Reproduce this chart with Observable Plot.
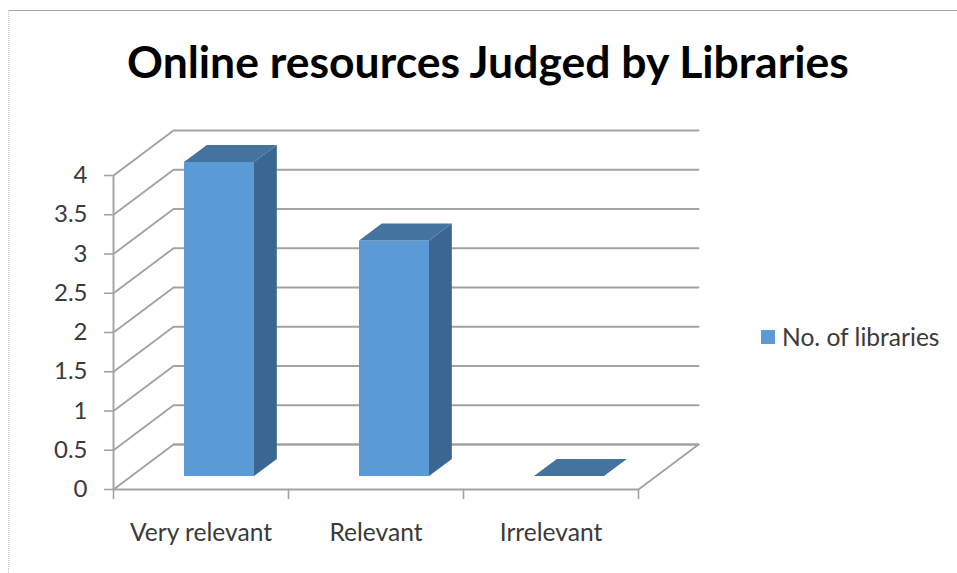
<!DOCTYPE html>
<html>
<head>
<meta charset="utf-8">
<script src="https://cdn.jsdelivr.net/npm/d3@7"></script>
<script src="https://cdn.jsdelivr.net/npm/@observablehq/plot@0.6"></script>
<style>
  html, body { margin: 0; padding: 0; background: #fff; overflow: hidden; }
  #chart { position: relative; width: 957px; height: 573px; font-family: Lato, sans-serif; color: #3a3a3a; }
  #chart svg { position: absolute; left: 0; top: 0; font-family: Lato, sans-serif; }
  #frame { position: absolute; left: 8px; top: 10px; right: 0; bottom: 0; border-top: 1.5px solid #a6a6a6; border-left: 1px dotted #c4c4c4; }
  #title { position: absolute; left: 0; top: 36px; width: 976px; text-align: center; font-size: 44.5px; line-height: 50px; font-weight: 700; color: #000; white-space: nowrap; }
  #legend { position: absolute; left: 761px; top: 322px; display: flex; align-items: center; font-size: 24.6px; line-height: 30px; white-space: nowrap; }
  #legend i { display: block; width: 14px; height: 14px; margin-right: 7px; background: #5b9bd5; }
</style>
</head>
<body>
<div id="chart">
  <div id="frame"></div>
  <div id="title">Online resources Judged by Libraries</div>
  <div id="legend"><i></i><span>No. of libraries</span></div>
</div>
<script>
const categories = ["Very relevant", "Relevant", "Irrelevant"];
const libraries = [4, 3, 0];
const valueTicks = [0, 0.5, 1, 1.5, 2, 2.5, 3, 3.5, 4];

// Oblique 3D projection: depth d (0 = front, 1 = back wall) shifts a point in data units.
const depthX = 0.343, depthY = 0.573;
const px = (c, d) => c + d * depthX;
const py = (v, d) => v + d * depthY;

const barStart = 0.3, barEnd = 0.7, depthFront = 0.3, depthBack = 0.68;

function face(id, corners) {
  return corners.map(([c, v, d]) => ({id, x: px(c, d), y: py(v, d)}));
}
const front = [], side = [], top_ = [];
libraries.forEach((v, i) => {
  const a = i + barStart, b = i + barEnd, f = depthFront, k = depthBack;
  front.push(...face(i, [[a, 0, f], [b, 0, f], [b, v, f], [a, v, f]]));
  side.push(...face(i, [[b, 0, f], [b, 0, k], [b, v, k], [b, v, f]]));
  top_.push(...face(i, [[a, v, f], [b, v, f], [b, v, k], [a, v, k]]));
});

const n = categories.length;
const wall = valueTicks.flatMap(v => face("w" + v, [[0, v, 0], [0, v, 1], [n, v, 1]]));
const floorEdge = face("floor", [[n, 0, 0], [n, 0, 1], [0, 0, 1]]);

const grid = "#a3a3a3";
const ink = "#3a3a3a";
const line = {x: "x", y: "y", z: "id"};

const plot = Plot.plot({
  width: 957,
  height: 573,
  marginLeft: 113,
  marginRight: 258,
  marginTop: 60,
  marginBottom: 84,
  x: {domain: [0, n], range: [113, 638]},
  y: {domain: [0, 4], range: [489, 175]},
  style: {background: "transparent", fontFamily: "Lato, sans-serif", color: ink, overflow: "visible"},
  marks: [
    Plot.line(wall, {...line, stroke: grid, strokeWidth: 1.9}),
    Plot.line(floorEdge, {...line, stroke: grid, strokeWidth: 1.9}),
    Plot.ruleX([0], {y1: 0, y2: 4, stroke: grid, strokeWidth: 1.9}),
    Plot.ruleY([0], {x1: 0, x2: n, stroke: grid, strokeWidth: 1.9}),
    Plot.line(side, {...line, fill: "#3a6690", stroke: null}),
    Plot.line(front, {...line, fill: "#5b9bd5", stroke: null}),
    Plot.line(top_, {...line, fill: "#44739f", stroke: null}),
    Plot.axisY({ticks: valueTicks, tickFormat: d => String(d), anchor: "left", label: null, tickSize: 9, tickPadding: 17, fontSize: 24, stroke: grid, strokeWidth: 1.6, fill: ink}),
    Plot.axisX({ticks: d3.range(n + 1), tickFormat: () => "", anchor: "bottom", label: null, tickSize: 10, stroke: grid, strokeWidth: 1.6}),
    Plot.axisX({ticks: categories.map((c, i) => i + 0.5), tickFormat: d => categories[Math.floor(d)], anchor: "bottom", label: null, tickSize: 0, tickPadding: 34, fontSize: 24.6, fill: ink})
  ]
});
document.getElementById("chart").appendChild(plot);
</script>
</body>
</html>
